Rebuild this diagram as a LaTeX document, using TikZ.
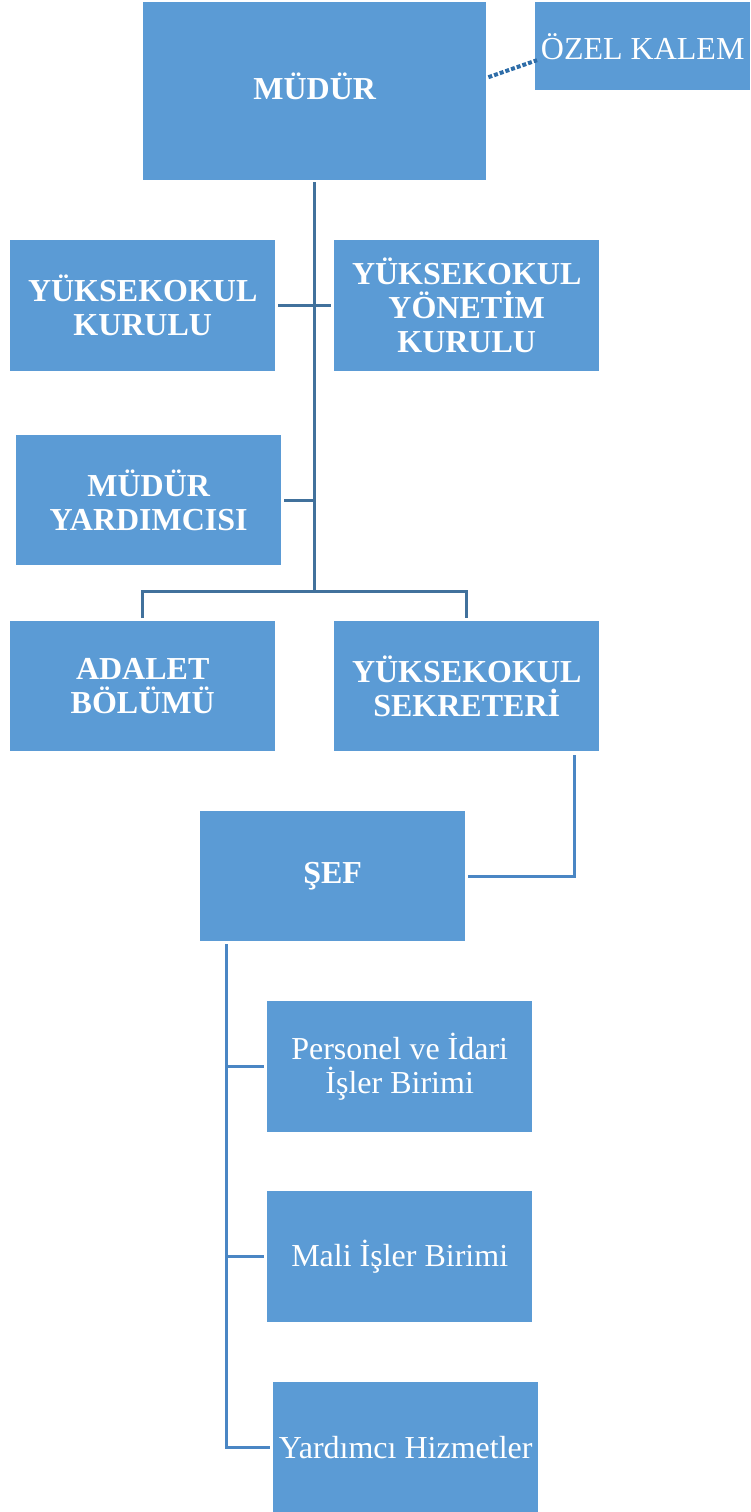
\documentclass[tikz,border=0pt]{standalone}
\usepackage{fontspec}
\setmainfont{Liberation Serif}
\usetikzlibrary{positioning}
\definecolor{boxblue}{HTML}{5B9BD5}
\definecolor{linedark}{HTML}{41719C}
\definecolor{linelight}{HTML}{4A86C4}
\definecolor{dotblue}{HTML}{2E6DA8}

\begin{document}
\begin{tikzpicture}[
    x=1pt, y=-1pt,
    box/.style={rectangle, fill=boxblue, text=white, inner sep=0pt, anchor=north west, align=center,
        font=\fontsize{32}{34}\selectfont},
    headbox/.style={box, font=\fontsize{32}{34}\selectfont\bfseries},
    link/.style={draw=linedark, line width=3pt},
    sublink/.style={draw=linelight, line width=3pt}
]
    \useasboundingbox (0,0) rectangle (750,1512);

    \node[headbox, minimum width=343pt, minimum height=178pt] (mudur) at (143,2) {\raisebox{10pt}{MÜDÜR}};
    \node[box, minimum width=215pt, minimum height=88pt] (kalem) at (535,2) {ÖZEL KALEM};

    \node[headbox, minimum width=265pt, minimum height=131pt] (kurul) at (10,240) {YÜKSEKOKUL\\KURULU};
    \node[headbox, minimum width=265pt, minimum height=131pt] (yonetim) at (334,240) {YÜKSEKOKUL\\YÖNETİM\\KURULU};
    \node[headbox, minimum width=265pt, minimum height=130pt] (yardimci) at (16,435) {MÜDÜR\\YARDIMCISI};

    \node[headbox, minimum width=265pt, minimum height=130pt] (adalet) at (10,621) {ADALET\\BÖLÜMÜ};
    \node[headbox, minimum width=265pt, minimum height=130pt] (sekreter) at (334,621) {YÜKSEKOKUL\\SEKRETERİ};

    \node[headbox, minimum width=265pt, minimum height=130pt] (sef) at (200,811) {ŞEF};

    \node[box, minimum width=265pt, minimum height=131pt] (personel) at (267,1001) {Personel ve İdari\\İşler Birimi};
    \node[box, minimum width=265pt, minimum height=131pt] (mali) at (267,1191) {Mali İşler Birimi};
    \node[box, minimum width=265pt, minimum height=130pt] (hizmet) at (273,1382) {Yardımcı Hizmetler};

    % upper tree
    \coordinate (trunk) at (314,182);
    \coordinate (bus) at (314,591);
    \draw[link] (trunk) -- (bus);
    \draw[link, shorten <=3pt, shorten >=3pt] (kurul.east) -- (yonetim.west);
    \draw[link, shorten <=3pt] (yardimci.east) -- (yardimci.east -| trunk);
    \draw[link] ([yshift=3pt]adalet.north) |- (bus) -| ([yshift=3pt]sekreter.north);
    \draw[dotblue, line width=4pt, dotted] ([xshift=2pt,yshift=14pt]mudur.east) -- ([xshift=2pt,yshift=-14pt]kalem.west);

    % lower tree
    \draw[sublink] ([xshift=-25pt,yshift=-4pt]sekreter.south east) |- ([xshift=3pt]sef.east);
    \coordinate (seftrunk) at ([xshift=26pt,yshift=-3pt]sef.south west);
    \draw[sublink] (seftrunk) |- ([xshift=-3pt]hizmet.west);
    \draw[sublink, shorten >=3pt] (personel.west -| seftrunk) -- (personel.west);
    \draw[sublink, shorten >=3pt] (mali.west -| seftrunk) -- (mali.west);
\end{tikzpicture}
\end{document}
